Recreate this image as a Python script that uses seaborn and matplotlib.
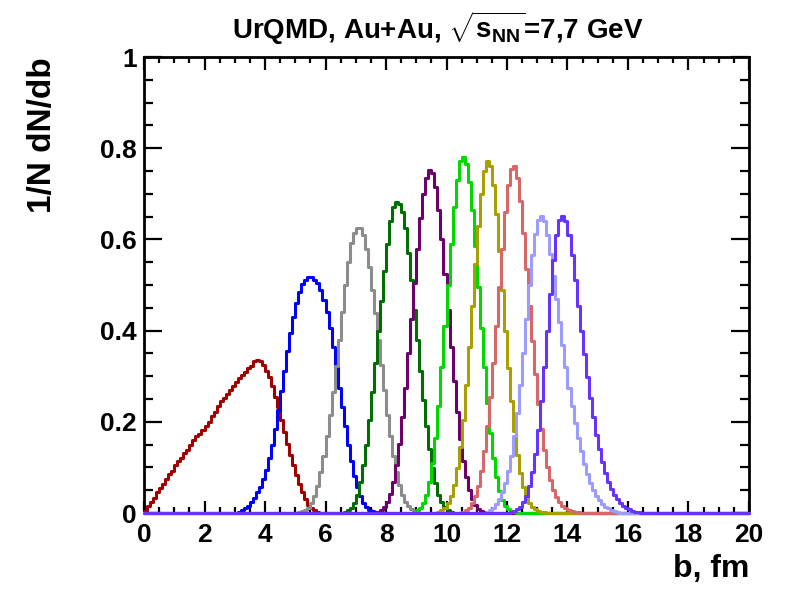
import numpy as np
import pandas as pd
import seaborn as sns
import matplotlib.pyplot as plt
from matplotlib.ticker import MultipleLocator, FuncFormatter

# binning of the impact parameter histograms (fm)
b_min, b_max, bin_width = 0.0, 20.0, 0.1

# each histogram: low edge of its first listed bin (fm) and the bin contents
red_start = 0.0
red_vals = [0.005, 0.015, 0.025, 0.034, 0.045, 0.055, 0.063, 0.075, 0.085, 0.092,
            0.105, 0.113, 0.120, 0.132, 0.138, 0.150, 0.160, 0.168, 0.173, 0.182,
            0.190, 0.200, 0.212, 0.222, 0.235, 0.245, 0.252, 0.262, 0.270, 0.278,
            0.287, 0.295, 0.302, 0.310, 0.318, 0.322, 0.333, 0.336, 0.334, 0.325,
            0.312, 0.298, 0.278, 0.255, 0.232, 0.205, 0.178, 0.152, 0.128, 0.105,
            0.083, 0.063, 0.045, 0.030, 0.018, 0.010, 0.006, 0.003, 0.001]

blue_start = 3.0
blue_vals = [0.001, 0.003, 0.006, 0.010, 0.016, 0.024, 0.033, 0.045, 0.058, 0.075,
             0.095, 0.120, 0.150, 0.185, 0.225, 0.268, 0.312, 0.355, 0.395, 0.430,
             0.460, 0.485, 0.502, 0.512, 0.518, 0.518, 0.512, 0.505, 0.490, 0.468,
             0.440, 0.405, 0.365, 0.320, 0.275, 0.232, 0.190, 0.150, 0.113, 0.082,
             0.057, 0.037, 0.022, 0.013, 0.007, 0.004, 0.002, 0.001]

gray_start = 5.0
gray_vals = [0.001, 0.002, 0.004, 0.007, 0.012, 0.022, 0.038, 0.060, 0.090, 0.125,
             0.168, 0.215, 0.265, 0.322, 0.380, 0.440, 0.500, 0.550, 0.593, 0.615,
             0.626, 0.625, 0.610, 0.580, 0.540, 0.490, 0.438, 0.380, 0.325, 0.270,
             0.215, 0.168, 0.125, 0.090, 0.062, 0.040, 0.025, 0.015, 0.008, 0.004,
             0.002, 0.001]

dkgreen_start = 6.5
dkgreen_vals = [0.001, 0.003, 0.006, 0.012, 0.022, 0.040, 0.068, 0.105, 0.150, 0.205,
                0.265, 0.330, 0.400, 0.465, 0.530, 0.590, 0.640, 0.672, 0.682, 0.678,
                0.660, 0.625, 0.570, 0.510, 0.445, 0.380, 0.312, 0.248, 0.190, 0.140,
                0.098, 0.065, 0.040, 0.024, 0.013, 0.007, 0.003, 0.001]

purple_start = 7.6
purple_vals = [0.001, 0.003, 0.007, 0.014, 0.025, 0.042, 0.068, 0.105, 0.152, 0.210,
               0.275, 0.350, 0.425, 0.505, 0.580, 0.648, 0.700, 0.735, 0.752, 0.745,
               0.715, 0.665, 0.600, 0.525, 0.445, 0.365, 0.290, 0.222, 0.162, 0.115,
               0.078, 0.050, 0.030, 0.017, 0.009, 0.004, 0.002, 0.001]

green_start = 8.8
green_vals = [0.001, 0.003, 0.006, 0.012, 0.022, 0.040, 0.068, 0.110, 0.165, 0.235,
              0.320, 0.410, 0.500, 0.590, 0.670, 0.730, 0.772, 0.780, 0.765, 0.725,
              0.665, 0.585, 0.495, 0.405, 0.320, 0.242, 0.175, 0.120, 0.078, 0.048,
              0.028, 0.015, 0.008, 0.004, 0.002, 0.001]

olive_start = 9.6
olive_vals = [0.001, 0.003, 0.006, 0.012, 0.022, 0.038, 0.062, 0.098, 0.145, 0.205,
              0.280, 0.365, 0.455, 0.545, 0.630, 0.700, 0.750, 0.772, 0.760, 0.720,
              0.655, 0.575, 0.490, 0.400, 0.318, 0.245, 0.180, 0.128, 0.088, 0.058,
              0.037, 0.023, 0.014, 0.008, 0.005, 0.003, 0.002, 0.001]

salmon_start = 10.4
salmon_vals = [0.001, 0.003, 0.006, 0.012, 0.022, 0.038, 0.060, 0.092, 0.135, 0.190,
               0.255, 0.330, 0.410, 0.495, 0.580, 0.660, 0.720, 0.755, 0.760, 0.735,
               0.685, 0.615, 0.535, 0.455, 0.378, 0.305, 0.240, 0.185, 0.138, 0.100,
               0.072, 0.050, 0.035, 0.024, 0.016, 0.011, 0.007, 0.005, 0.003, 0.002,
               0.001]

lavender_start = 11.2
lavender_vals = [0.001, 0.003, 0.006, 0.011, 0.019, 0.030, 0.045, 0.065, 0.092, 0.125,
                 0.168, 0.220, 0.280, 0.350, 0.425, 0.500, 0.565, 0.612, 0.643, 0.652,
                 0.640, 0.610, 0.568, 0.520, 0.470, 0.418, 0.368, 0.320, 0.275, 0.235,
                 0.198, 0.165, 0.135, 0.108, 0.085, 0.066, 0.050, 0.038, 0.028, 0.020,
                 0.014, 0.010, 0.007, 0.004, 0.002, 0.001]

violet_start = 12.0
violet_vals = [0.001, 0.002, 0.004, 0.008, 0.014, 0.024, 0.038, 0.060, 0.090, 0.130,
               0.182, 0.245, 0.320, 0.400, 0.480, 0.555, 0.610, 0.642, 0.652, 0.640,
               0.610, 0.565, 0.510, 0.455, 0.400, 0.348, 0.298, 0.252, 0.210, 0.172,
               0.140, 0.112, 0.088, 0.068, 0.052, 0.040, 0.030, 0.022, 0.016, 0.011,
               0.008, 0.005, 0.003, 0.002, 0.001]

series = [
    (red_start, red_vals, '#a00000'),
    (blue_start, blue_vals, '#0000ff'),
    (gray_start, gray_vals, '#8c8c8c'),
    (dkgreen_start, dkgreen_vals, '#006e00'),
    (purple_start, purple_vals, '#6e006e'),
    (green_start, green_vals, '#00d800'),
    (olive_start, olive_vals, '#a8a000'),
    (salmon_start, salmon_vals, '#d86868'),
    (lavender_start, lavender_vals, '#9c9cff'),
    (violet_start, violet_vals, '#6633ff'),
]

sns.set_style("ticks")
plt.rcParams['font.family'] = ['Liberation Sans', 'DejaVu Sans']
plt.rcParams['font.weight'] = 'bold'
plt.rcParams['mathtext.fontset'] = 'custom'
plt.rcParams['mathtext.rm'] = 'Liberation Sans:bold'
plt.rcParams['mathtext.it'] = 'Liberation Sans:bold'
plt.rcParams['mathtext.bf'] = 'Liberation Sans:bold'
for key in ['text.color', 'axes.labelcolor', 'xtick.color', 'ytick.color', 'axes.edgecolor']:
    plt.rcParams[key] = 'black'

n_bins = int(round((b_max - b_min) / bin_width))
centers = b_min + bin_width * (np.arange(n_bins) + 0.5)

fig = plt.figure(figsize=(7.87, 5.89), dpi=100)
ax = fig.add_axes([0.183, 0.129, 0.7687, 0.7742])

for start, vals, col in series:
    full = np.zeros(n_bins)
    i0 = int(round((start - b_min) / bin_width))
    full[i0:i0 + len(vals)] = vals
    df = pd.DataFrame({'b': centers, 'w': full})
    sns.histplot(data=df, x='b', weights='w', binwidth=bin_width, binrange=(b_min, b_max),
                 element='step', fill=False, color=col, lw=2.2, ax=ax)

for ln in ax.lines:
    ln.set_clip_on(False)
    ln.set_zorder(3)

ax.set_xlim(0, 20)
ax.set_ylim(0, 1)
ax.xaxis.set_major_locator(MultipleLocator(2))
ax.xaxis.set_minor_locator(MultipleLocator(0.5))
ax.yaxis.set_major_locator(MultipleLocator(0.2))
ax.yaxis.set_minor_locator(MultipleLocator(0.05))
ax.yaxis.set_major_formatter(FuncFormatter(lambda v, _: '%g' % round(v, 2)))

ax.tick_params(which='both', direction='in', top=True, right=True, width=1.6,
               labelsize=19, colors='black')
ax.tick_params(axis='x', which='major', length=9, pad=7)
ax.tick_params(axis='x', which='minor', length=4.5)
ax.tick_params(axis='y', which='major', length=13, pad=5)
ax.tick_params(axis='y', which='minor', length=6.5)
for lab in ax.get_xticklabels() + ax.get_yticklabels():
    lab.set_fontweight('bold')
for sp in ax.spines.values():
    sp.set_linewidth(2)
    sp.set_color('black')
    sp.set_visible(True)

ax.set_xlabel('b, fm', fontsize=23, fontweight='bold', loc='right', color='black')
ax.xaxis.set_label_coords(1.0, -0.09)
ax.set_ylabel('1/N dN/db', fontsize=24, fontweight='bold', loc='top', color='black')
ax.yaxis.set_label_coords(-0.142, 1.0)
ax.set_title(r'UrQMD, Au+Au, $\sqrt{s_{NN}}$=7,7 GeV', fontsize=20, fontweight='bold',
             pad=13, color='black', x=0.485)

fig.savefig('out.png', dpi=100)
